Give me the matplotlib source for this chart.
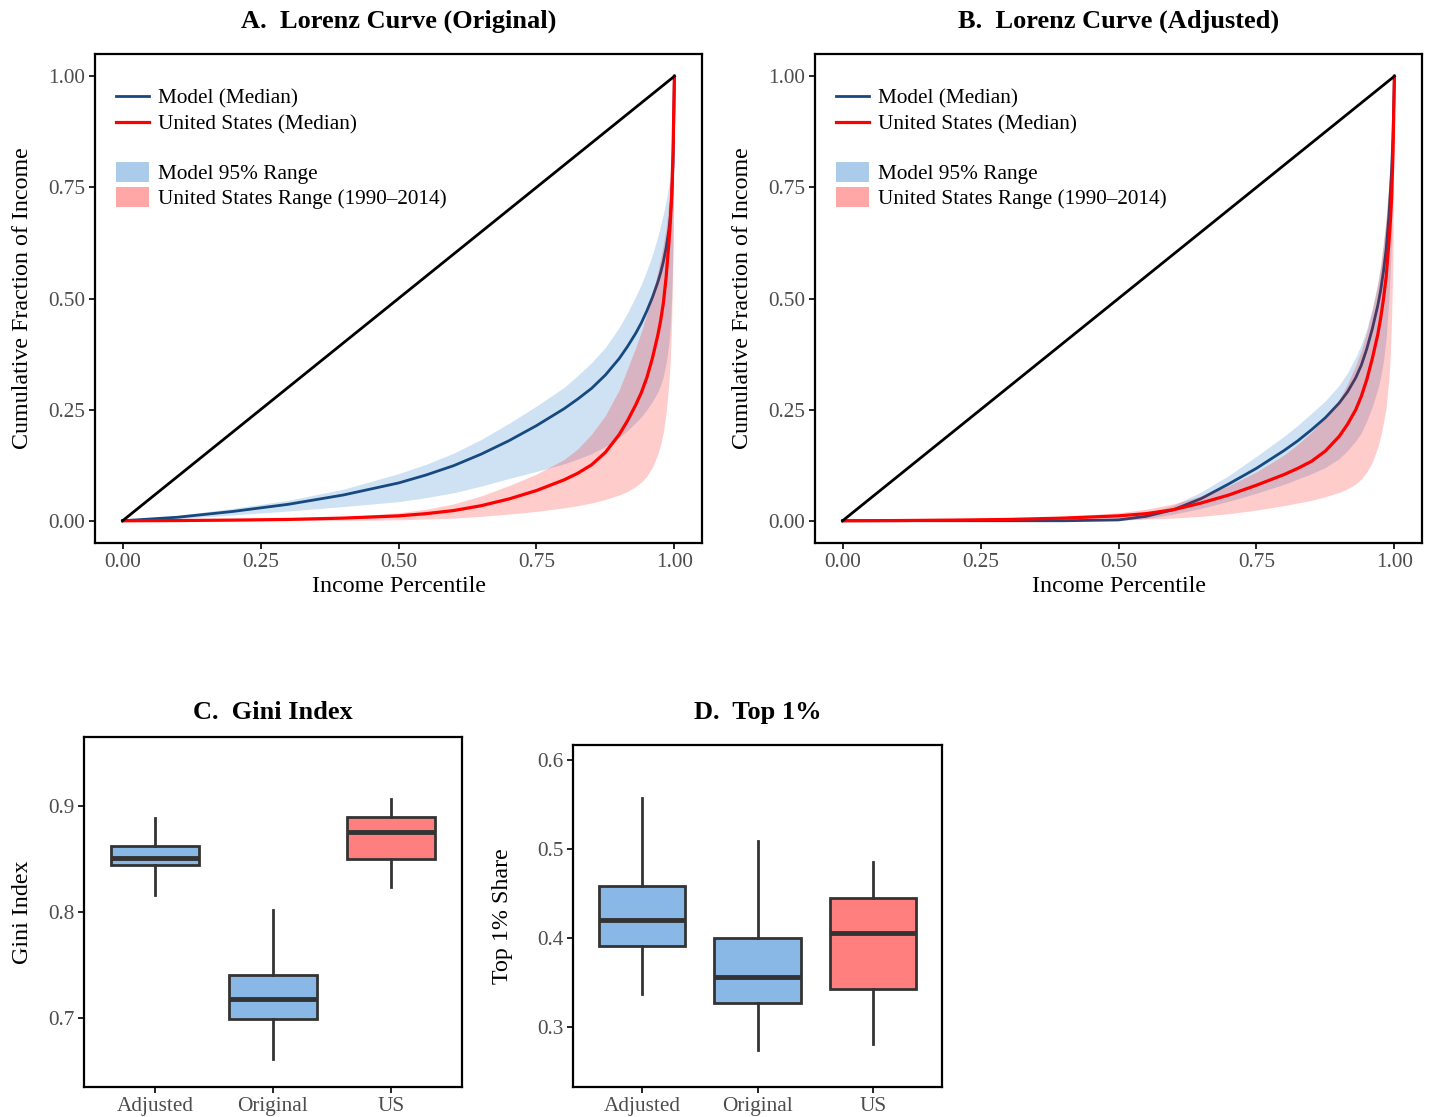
import matplotlib
matplotlib.use("Agg")
import matplotlib.pyplot as plt
from matplotlib.lines import Line2D
from matplotlib.patches import Patch
import numpy as np

plt.rcParams['font.family'] = ['Liberation Serif', 'DejaVu Serif']

# ---------------- data ----------------
percentile = [0, 0.1, 0.2, 0.3, 0.4, 0.5, 0.55, 0.6, 0.65, 0.7, 0.75, 0.8, 0.825, 0.85, 0.875,
              0.9, 0.915, 0.93, 0.94, 0.95, 0.96, 0.97, 0.975, 0.98, 0.985, 0.99, 0.9925, 0.995,
              0.9975, 1.0]

# Panel A (Original)
a_model_med = [0, 0.008, 0.021, 0.037, 0.058, 0.085, 0.103, 0.124, 0.150, 0.180, 0.214, 0.252, 0.274,
               0.298, 0.328, 0.365, 0.392, 0.422, 0.445, 0.472, 0.502, 0.537, 0.558, 0.583, 0.614,
               0.655, 0.684, 0.725, 0.80, 1.0]
a_model_hi = [0, 0.012, 0.028, 0.046, 0.071, 0.106, 0.127, 0.152, 0.183, 0.219, 0.258, 0.300, 0.327,
              0.356, 0.39, 0.435, 0.468, 0.505, 0.532, 0.563, 0.598, 0.64, 0.665, 0.69, 0.72,
              0.755, 0.778, 0.805, 0.86, 1.0]
a_model_lo = [0, 0.005, 0.013, 0.022, 0.032, 0.043, 0.052, 0.063, 0.078, 0.095, 0.111, 0.128, 0.139,
              0.151, 0.167, 0.187, 0.203, 0.221, 0.234, 0.25, 0.268, 0.29, 0.305, 0.325, 0.355,
              0.40, 0.44, 0.50, 0.62, 1.0]
a_us_med = [0, 0.0005, 0.0015, 0.003, 0.006, 0.011, 0.016, 0.023, 0.034, 0.049, 0.068, 0.092, 0.107,
            0.126, 0.154, 0.194, 0.225, 0.261, 0.288, 0.322, 0.365, 0.418, 0.45, 0.49, 0.548,
            0.625, 0.67, 0.73, 0.83, 1.0]
a_us_hi = [0, 0.001, 0.002, 0.004, 0.009, 0.018, 0.026, 0.038, 0.056, 0.079, 0.105, 0.138, 0.162,
           0.195, 0.237, 0.295, 0.342, 0.39, 0.425, 0.465, 0.51, 0.56, 0.59, 0.622, 0.66,
           0.72, 0.755, 0.80, 0.87, 1.0]
a_us_lo = [0, 0, 0, 0.0005, 0.001, 0.002, 0.004, 0.006, 0.01, 0.015, 0.021, 0.029, 0.034,
           0.040, 0.048, 0.058, 0.066, 0.077, 0.087, 0.10, 0.12, 0.15, 0.172, 0.2, 0.243,
           0.31, 0.36, 0.45, 0.60, 1.0]

# Panel B (Adjusted)
b_model_med = [0, 0, 0, 0, 0, 0.002, 0.01, 0.025, 0.05, 0.083, 0.118, 0.158, 0.18,
               0.205, 0.232, 0.265, 0.29, 0.322, 0.35, 0.387, 0.432, 0.485, 0.518, 0.56, 0.61,
               0.685, 0.735, 0.79, 0.87, 1.0]
b_model_hi = [0, 0, 0, 0, 0.001, 0.006, 0.016, 0.035, 0.065, 0.102, 0.145, 0.19, 0.215,
              0.242, 0.27, 0.305, 0.333, 0.368, 0.397, 0.432, 0.478, 0.535, 0.572, 0.62, 0.68,
              0.755, 0.80, 0.85, 0.91, 1.0]
b_model_lo = [0, 0, 0, 0, 0, 0, 0.005, 0.015, 0.028, 0.044, 0.062, 0.082, 0.094,
              0.106, 0.12, 0.14, 0.158, 0.18, 0.198, 0.225, 0.257, 0.297, 0.323, 0.358, 0.41,
              0.50, 0.56, 0.64, 0.78, 1.0]
b_us_med = [0, 0.0005, 0.0015, 0.003, 0.006, 0.011, 0.016, 0.025, 0.04, 0.058, 0.08, 0.104, 0.118,
            0.134, 0.157, 0.19, 0.217, 0.25, 0.28, 0.318, 0.365, 0.42, 0.455, 0.497, 0.548,
            0.625, 0.67, 0.73, 0.83, 1.0]
b_us_hi = [0, 0.001, 0.003, 0.005, 0.01, 0.018, 0.026, 0.038, 0.056, 0.079, 0.11, 0.148, 0.172,
           0.2, 0.232, 0.272, 0.308, 0.35, 0.383, 0.425, 0.475, 0.535, 0.575, 0.625, 0.68,
           0.76, 0.81, 0.86, 0.92, 1.0]
b_us_lo = [0, 0, 0, 0.0005, 0.001, 0.002, 0.004, 0.006, 0.01, 0.016, 0.024, 0.034, 0.04,
           0.046, 0.054, 0.064, 0.072, 0.083, 0.094, 0.11, 0.132, 0.166, 0.19, 0.22, 0.255,
           0.32, 0.37, 0.46, 0.60, 1.0]

# Box plots
groups = ['Adjusted', 'Original', 'US']
gini_whislo = [0.816, 0.661, 0.824]
gini_q1 = [0.844, 0.699, 0.850]
gini_med = [0.851, 0.718, 0.8755]
gini_q3 = [0.862, 0.741, 0.890]
gini_whishi = [0.889, 0.802, 0.907]

top_whislo = [0.337, 0.2745, 0.281]
top_q1 = [0.391, 0.3266, 0.343]
top_med = [0.420, 0.356, 0.4056]
top_q3 = [0.459, 0.400, 0.445]
top_whishi = [0.557, 0.509, 0.485]

box_colors = ['#8ab8e6', '#8ab8e6', '#ff7f7f']

# ---------------- styling ----------------
BLUE_LINE = '#15497f'
RED_LINE = '#ff0000'
BLUE_FILL = '#0f6ec3'
RED_FILL = '#ff0000'
FILL_ALPHA = 0.2
BLUE_KEY = '#abcbeb'
RED_KEY = '#ffa6a6'
TICK_COLOR = '#4d4d4d'
TICK_SIZE = 15.3
LABEL_SIZE = 17.3
TITLE_SIZE = 19

W, H = 1429, 1117
fig = plt.figure(figsize=(W / 100, H / 100), dpi=100)


def style_axes(ax):
    for sp in ax.spines.values():
        sp.set_linewidth(1.6)
        sp.set_color('black')
    ax.tick_params(axis='both', direction='out', length=4, width=1.2, color='black',
                   labelsize=TICK_SIZE, labelcolor=TICK_COLOR, pad=3)


def lorenz_panel(ax, med_m, hi_m, lo_m, med_u, hi_u, lo_u, title):
    p = np.array(percentile)
    ax.fill_between(p, lo_m, hi_m, color=BLUE_FILL, alpha=FILL_ALPHA, linewidth=0, zorder=1)
    ax.plot(p, med_m, color=BLUE_LINE, lw=2.0, zorder=2)
    ax.fill_between(p, lo_u, hi_u, color=RED_FILL, alpha=FILL_ALPHA, linewidth=0, zorder=3)
    ax.plot(p, med_u, color=RED_LINE, lw=2.3, zorder=4)
    ax.plot([0, 1], [0, 1], color='black', lw=2.0, zorder=5)
    ax.set_xlim(-0.05, 1.05)
    ax.set_ylim(-0.05, 1.05)
    ticks = [0, 0.25, 0.5, 0.75, 1.0]
    ax.set_xticks(ticks)
    ax.set_yticks(ticks)
    ax.set_xticklabels(['0.00', '0.25', '0.50', '0.75', '1.00'])
    ax.set_yticklabels(['0.00', '0.25', '0.50', '0.75', '1.00'])
    ax.set_xlabel('Income Percentile', fontsize=LABEL_SIZE, labelpad=3)
    ax.set_ylabel('Cumulative Fraction of Income', fontsize=LABEL_SIZE, labelpad=11)
    ax.set_title(title, fontsize=TITLE_SIZE, fontweight='bold', pad=19)
    style_axes(ax)

    h1 = [Line2D([0], [0], color=BLUE_LINE, lw=2.0),
          Line2D([0], [0], color=RED_LINE, lw=2.3)]
    leg1 = ax.legend(h1, ['Model (Median)', 'United States (Median)'], loc='upper left',
                     bbox_to_anchor=(0.02, 0.946), frameon=False, fontsize=15.3,
                     handlelength=1.55, handletextpad=0.45, labelspacing=0.27,
                     borderaxespad=0.0)
    ax.add_artist(leg1)
    h2 = [Patch(facecolor=BLUE_KEY, edgecolor='none'),
          Patch(facecolor=RED_KEY, edgecolor='none')]
    ax.legend(h2, ['Model 95% Range', 'United States Range (1990\u20132014)'], loc='upper left',
              bbox_to_anchor=(0.02, 0.797), frameon=False, fontsize=15.3,
              handlelength=1.55, handleheight=1.1, handletextpad=0.45, labelspacing=0.12,
              borderaxespad=0.0)


axA = fig.add_axes([95 / W, 1 - 543 / H, 607 / W, 489 / H])
lorenz_panel(axA, a_model_med, a_model_hi, a_model_lo, a_us_med, a_us_hi, a_us_lo,
             'A.  Lorenz Curve (Original)')
axB = fig.add_axes([815 / W, 1 - 543 / H, 607 / W, 489 / H])
lorenz_panel(axB, b_model_med, b_model_hi, b_model_lo, b_us_med, b_us_hi, b_us_lo,
             'B.  Lorenz Curve (Adjusted)')


def box_panel(ax, wlo, q1, med, q3, whi, ylim, yticks, ylabel, title, ylabelpad, titlepad):
    stats = []
    for i, g in enumerate(groups):
        stats.append(dict(label=g, whislo=wlo[i], q1=q1[i], med=med[i], q3=q3[i],
                          whishi=whi[i], fliers=[]))
    bp = ax.bxp(stats, positions=[1, 2, 3], widths=0.75, patch_artist=True,
                showcaps=False, showfliers=False,
                boxprops=dict(edgecolor='#333333', linewidth=2.0),
                medianprops=dict(color='#333333', linewidth=3.5, solid_capstyle='butt'),
                whiskerprops=dict(color='#333333', linewidth=2.0))
    for patch, c in zip(bp['boxes'], box_colors):
        patch.set_facecolor(c)
    ax.set_xlim(0.4, 3.6)
    ax.set_ylim(*ylim)
    ax.set_yticks(yticks)
    ax.set_yticklabels([f'{t:.1f}' for t in yticks])
    ax.set_xticks([1, 2, 3])
    ax.set_xticklabels(groups)
    ax.set_ylabel(ylabel, fontsize=LABEL_SIZE, labelpad=ylabelpad)
    ax.set_title(title, fontsize=TITLE_SIZE, fontweight='bold', pad=titlepad)
    style_axes(ax)


axC = fig.add_axes([84 / W, 1 - 1087 / H, 378 / W, 350 / H])
box_panel(axC, gini_whislo, gini_q1, gini_med, gini_q3, gini_whishi,
          (0.635, 0.965), [0.7, 0.8, 0.9], 'Gini Index', 'C.  Gini Index', 11, 13)

axD = fig.add_axes([573 / W, 1 - 1087 / H, 369 / W, 342 / H])
box_panel(axD, top_whislo, top_q1, top_med, top_q3, top_whishi,
          (0.2326, 0.617), [0.3, 0.4, 0.5, 0.6], 'Top 1% Share', 'D.  Top 1%', 17, 19)

fig.savefig('out.png', dpi=100)
